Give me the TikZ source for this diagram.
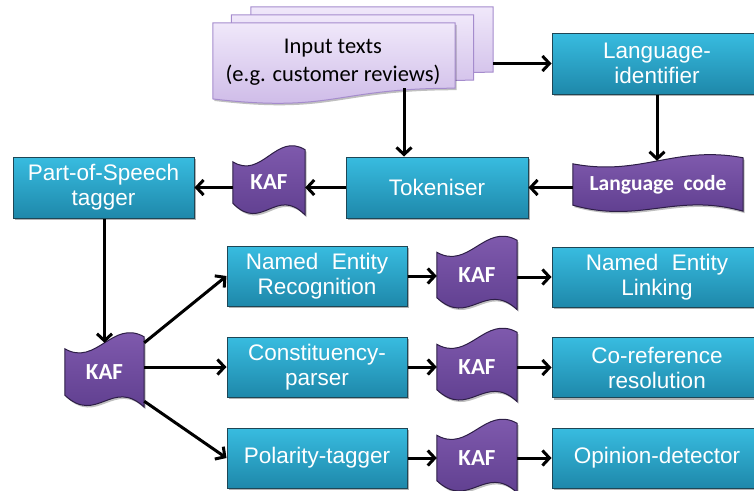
\documentclass[tikz,border=0pt]{standalone}
\usepackage{fontspec}
\setmainfont{Liberation Sans}
\newfontfamily\calibri{Carlito}
\usetikzlibrary{arrows.meta,calc,shadows,backgrounds}

\definecolor{boxtop}{RGB}{56,188,224}
\definecolor{boxbot}{RGB}{30,136,170}
\definecolor{boxline}{RGB}{30,70,85}
\definecolor{kaftop}{RGB}{132,94,178}
\definecolor{kafbot}{RGB}{90,58,138}
\definecolor{kafline}{RGB}{45,30,70}
\definecolor{doctop}{RGB}{240,232,250}
\definecolor{docbot}{RGB}{203,183,230}
\definecolor{docline}{RGB}{165,140,205}

% wave (KAF-like) outline around a node: #1 node, #2 control offset, #3 corner offset
\newcommand\wavepath[3]{let \p1=(#1.north west), \p2=(#1.south east), \n1={\x2-\x1} in
 (\x1,\y1-#3) .. controls (\x1+0.4*\n1,\y1-#2) and (\x1+0.6*\n1,\y1+#2) .. (\x2,\y1+#3)
 -- (\x2,\y2-#3) .. controls (\x1+0.6*\n1,\y2+#2) and (\x1+0.4*\n1,\y2-#2) .. (\x1,\y2+#3) -- cycle}
% document sheet with wavy bottom
\newcommand\docpath[1]{let \p1=(#1.north west), \p2=(#1.south east), \n1={\x2-\x1}, \n2={(\y1-\y2)/0.802} in
 (\x1,\y1) -- (\x2,\y1) -- (\x2,\y2) .. controls (\x1+0.5*\n1,\y2) and (\x1+0.5*\n1,\y2-0.305*\n2) .. (\x1,\y2-0.132*\n2) -- cycle}

\begin{document}
\begin{tikzpicture}[x=1pt,y=-1pt,
  box/.style={draw=boxline, line width=1pt, top color=boxtop, bottom color=boxbot,
    text=white, font=\fontsize{22.5}{25}\selectfont, align=center, inner sep=0pt,
    minimum height=61pt,
    drop shadow={shadow xshift=1.5pt, shadow yshift=-2pt, opacity=0.3, fill=black}},
  kafnode/.style={inner sep=0pt, minimum width=74pt, minimum height=55pt, text=white,
    font=\calibri\bfseries\fontsize{23}{26}\selectfont},
  sheet/.style={inner sep=0pt, minimum width=242pt, minimum height=65pt},
  intext/.style={font=\calibri\fontsize{22.5}{27.5}\selectfont, align=center, text=black, inner sep=0pt},
  docstyle/.style={draw=docline, line width=1pt, top color=doctop, bottom color=docbot},
  kafstyle/.style={draw=kafline, line width=1pt, top color=kaftop, bottom color=kafbot},
  shadowstyle/.style={fill=black, opacity=0.25, transform canvas={shift={(1.5pt,-2pt)}}},
  arr/.style={-{Straight Barb[length=7pt,width=15pt]}, line width=3pt}
]
\useasboundingbox (0,0) rectangle (754,490);
\clip (0,0) rectangle (754,490);

% input sheets
\node[sheet] (s3) at (372,39.5) {};
\node[sheet] (s2) at (352.5,47.5) {};
\node[sheet] (s1) at (334,55.5) {};
\node[intext] (intext) at (333,62) {Input texts\\(e.g. customer reviews)};

% top row
\node[box, minimum width=210pt] (lang) at (657,63.5) {Language-\\identifier};
\node[kafnode, minimum width=170pt, minimum height=47pt, font=\calibri\bfseries\fontsize{21.5}{24}\selectfont] (lcode) at (658,184.5) {Language\hspace{0.45em}code};
\node[box, minimum width=182pt] (tok) at (437,187.5) {Tokeniser};
\node[kafnode, minimum width=72pt, minimum height=53pt] (k1) at (269,182.5) {KAF};
\node[box, minimum width=181pt] (pos) at (103.5,187.5) {Part-of-Speech\\tagger};

% lower part
\node[kafnode, minimum width=79pt, minimum height=58pt] (k2) at (104.5,372) {KAF};
\node[box, minimum width=180pt, minimum height=60pt] (ner) at (317,276) {Named\hspace{0.6em}Entity\\Recognition};
\node[box, minimum width=180pt, minimum height=60pt] (cons) at (317,367) {Constituency-\\parser};
\node[box, minimum width=180pt, minimum height=60pt] (pol) at (317,458) {Polarity-tagger};
\node[kafnode, minimum width=80pt, minimum height=57pt] (k3) at (477,275) {KAF};
\node[kafnode, minimum width=80pt, minimum height=57pt] (k4) at (477,367) {KAF};
\node[kafnode, minimum width=80pt, minimum height=57pt] (k5) at (477,458) {KAF};
\node[box, minimum width=210pt, minimum height=60pt] (nel) at (657,277) {Named\hspace{0.6em}Entity\\Linking};
\node[box, minimum width=210pt, minimum height=60pt] (coref) at (657,367.5) {Co-reference\\resolution};
\node[box, minimum width=210pt, minimum height=60pt] (op) at (657,458) {Opinion-detector};

\begin{pgfonlayer}{background}
\clip (0,0) rectangle (754,490);
\path[docstyle] \docpath{s3};
\path[docstyle] \docpath{s2};
\fill[shadowstyle] \docpath{s1};
\path[docstyle] \docpath{s1};
\foreach \k in {k1,k2,k3,k4,k5}{
  \fill[shadowstyle] \wavepath{\k}{24pt}{6pt};
  \path[kafstyle] \wavepath{\k}{24pt}{6pt};
}
\fill[shadowstyle] \wavepath{lcode}{16pt}{3pt};
\path[kafstyle] \wavepath{lcode}{16pt}{3pt};
\end{pgfonlayer}

% connectors
\coordinate (tokin) at ($(tok.north)+(-33,0)$);
\draw[arr] (lang.west -| s3.east) -- (lang.west);
\draw[arr] (lang.south) -- (lang.south |- lcode.north);
\draw[arr] (tokin |- s1.south) -- (tokin);
\draw[arr] (lcode.west |- tok.east) -- (tok.east);
\draw[arr] (tok.west) -- (tok.west -| k1.east);
\draw[arr] (k1.west |- pos.east) -- (pos.east);
\draw[arr] (pos.south -| k2.north) -- (k2.north);
\draw[arr] (k2.north east) -- (ner.west);
\draw[arr] (k2.east |- cons.west) -- (cons.west);
\draw[arr] (k2.south east) -- (pol.west);
\draw[arr] (ner.east) -- (ner.east -| k3.west);
\draw[arr] (cons.east) -- (cons.east -| k4.west);
\draw[arr] (pol.east) -- (pol.east -| k5.west);
\draw[arr] (k3.east |- nel.west) -- (nel.west);
\draw[arr] (k4.east |- coref.west) -- (coref.west);
\draw[arr] (k5.east |- op.west) -- (op.west);
\end{tikzpicture}
\end{document}
